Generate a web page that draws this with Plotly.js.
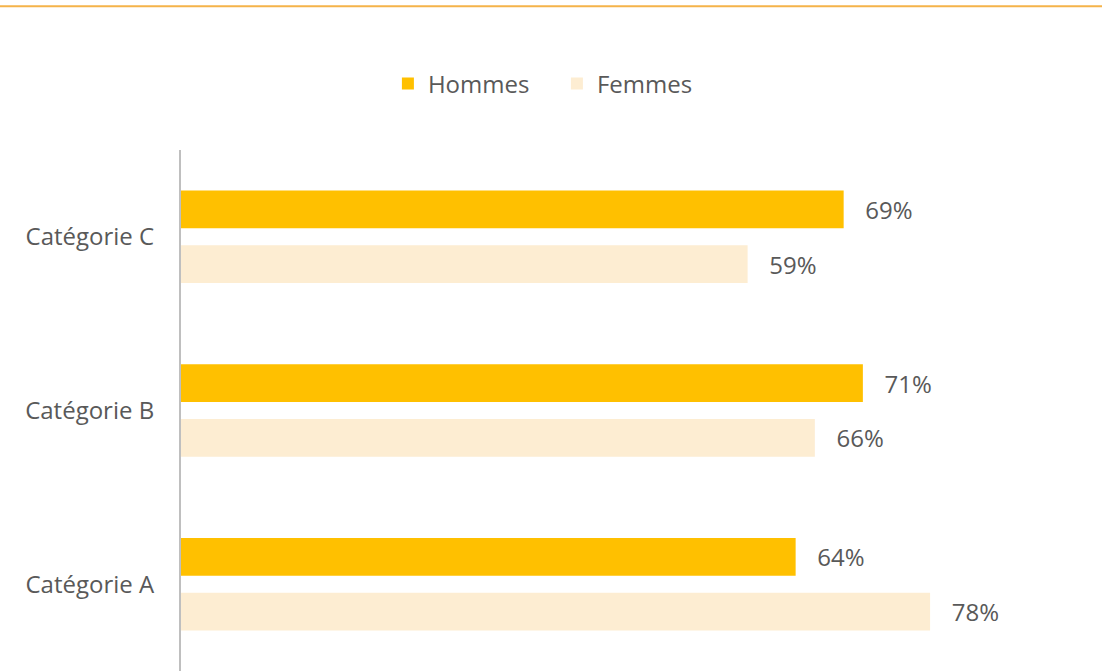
<!DOCTYPE html>
<html>
<head>
<meta charset="utf-8">
<script src="https://cdn.plot.ly/plotly-3.0.1.min.js"></script>
<style>html,body{margin:0;padding:0;background:#fff;}#chart{width:1102px;height:671px;}</style>
</head>
<body>
<div id="chart"></div>
<script>
const categories = ['Catégorie C', 'Catégorie B', 'Catégorie A'];
const hommes = [69, 71, 64];
const femmes = [59, 66, 78];
const seriesNames = ['Hommes', 'Femmes'];

const fam = '"Open Sans", Lato, sans-serif';
const tickFont = {family: fam, size: 24, color: '#595959'};
const valueFont = {family: fam, size: 24, color: '#595959'};

const traces = [
  {
    type: 'bar', orientation: 'h', name: seriesNames[0],
    y: categories, x: hommes,
    marker: {color: '#FFC000'},
    text: hommes.map(v => v + '%'),
    texttemplate: '\u00a0\u00a0\u00a0%{text}',
    textposition: 'outside', constraintext: 'none', cliponaxis: false,
    textfont: valueFont, hoverinfo: 'x+y'
  },
  {
    type: 'bar', orientation: 'h', name: seriesNames[1],
    y: categories, x: femmes,
    marker: {color: '#FDEDD2'},
    text: femmes.map(v => v + '%'),
    texttemplate: '\u00a0\u00a0\u00a0%{text}',
    textposition: 'outside', constraintext: 'none', cliponaxis: false,
    textfont: valueFont, hoverinfo: 'x+y'
  }
];

const layout = {
  width: 1102, height: 671,
  margin: {l: 181, r: 0, t: 150, b: 0},
  paper_bgcolor: '#ffffff', plot_bgcolor: '#ffffff',
  font: tickFont,
  barmode: 'group', bargap: 0.37, bargroupgap: 0.31,
  showlegend: true,
  legend: {
    orientation: 'h', xref: 'container', yref: 'container',
    x: 0.352, xanchor: 'left', y: 0.875, yanchor: 'middle',
    font: {family: fam, size: 24, color: '#595959'},
    itemwidth: 30, traceorder: 'normal',
    entrywidth: 124, entrywidthmode: 'pixels'
  },
  xaxis: {range: [0, 95.9], visible: false, showgrid: false, zeroline: false, fixedrange: true},
  yaxis: {
    type: 'category', autorange: 'reversed',
    showline: true, linecolor: '#BFBFBF', linewidth: 2,
    showgrid: false, zeroline: false, ticks: '',
    ticklabelstandoff: 20,
    tickfont: tickFont
  },
  shapes: [
    {type: 'line', xref: 'paper', yref: 'paper', x0: -0.2, x1: 1.01, y0: 1.276, y1: 1.276,
     line: {color: '#F5B34A', width: 2}}
  ]
};

Plotly.newPlot('chart', traces, layout, {displayModeBar: false, staticPlot: true});
</script>
</body>
</html>
